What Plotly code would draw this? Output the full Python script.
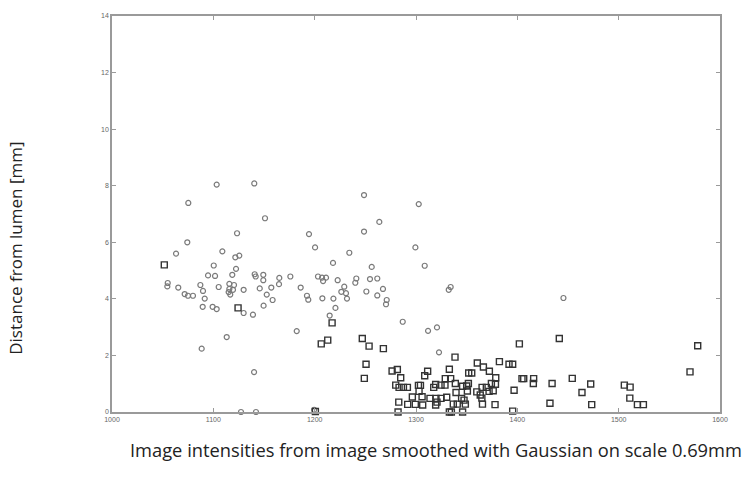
import plotly.graph_objects as go

# Circles (grey)
circle_x = [1075.3, 1103.3, 1140.4, 1151.0, 1074.3, 1063.2, 1123.4, 1108.9, 1121.7, 1125.6,
            1100.4, 1094.8, 1101.7, 1122.4, 1118.7, 1055.0, 1054.6, 1065.4, 1087.2, 1089.8,
            1091.5, 1089.5, 1099.3, 1103.3, 1105.3, 1071.7, 1075.0, 1079.9, 1115.8, 1120.4,
            1115.8, 1119.4, 1115.1, 1116.7, 1129.9, 1129.9, 1139.1, 1140.8, 1141.8, 1149.3,
            1149.3, 1145.8, 1157.2, 1152.7, 1158.5, 1149.6, 1164.8, 1165.1, 1176.0, 1186.2,
            1192.4, 1193.7, 1194.4, 1200.4, 1203.3, 1207.3, 1211.2, 1208.3, 1207.6, 1218.1,
            1222.7, 1218.5, 1220.5, 1214.8, 1182.3, 1113.2, 1088.5, 1140.2, 1127.3, 1142.1,
            1199.5, 1248.7, 1263.8, 1248.7, 1234.2, 1256.3, 1229.2, 1226.3, 1230.9, 1231.9,
            1241.1, 1240.1, 1254.6, 1261.8, 1251.0, 1267.4, 1261.8, 1271.1, 1270.4, 1302.7,
            1299.4, 1308.6, 1332.3, 1334.2, 1445.5, 1286.9, 1311.9, 1320.7, 1322.7]
circle_y = [7.39, 8.04, 8.08, 6.85, 6.00, 5.60, 6.32, 5.68, 5.47, 5.53,
            5.18, 4.83, 4.81, 5.06, 4.85, 4.56, 4.44, 4.40, 4.49, 4.28,
            4.01, 3.72, 3.72, 3.64, 4.42, 4.17, 4.11, 4.11, 4.53, 4.49,
            4.35, 4.32, 4.24, 4.15, 4.32, 3.50, 3.44, 4.87, 4.79, 4.85,
            4.66, 4.37, 4.40, 4.15, 3.96, 3.76, 4.52, 4.74, 4.79, 4.40,
            4.11, 3.97, 6.29, 5.82, 4.79, 4.75, 4.75, 4.63, 4.02, 5.27,
            4.66, 4.01, 3.68, 3.41, 2.86, 2.65, 2.24, 1.41, 0.00, 0.00,
            0.08, 7.67, 6.72, 6.38, 5.63, 5.13, 4.43, 4.25, 4.20, 4.01,
            4.72, 4.57, 4.70, 4.72, 4.26, 4.35, 4.12, 3.96, 3.81, 7.35,
            5.82, 5.17, 4.32, 4.42, 4.03, 3.19, 2.87, 2.99, 2.11]

# Squares (dark)
square_x = [1051.6, 1124.4, 1217.2, 1206.5, 1212.9, 1200.7, 1247.0, 1253.7, 1267.8, 1250.7,
            1249.0, 1276.4, 1281.6, 1284.9, 1280.0, 1283.3, 1287.6, 1291.5, 1283.0, 1291.8,
            1299.3, 1306.6, 1296.4, 1306.0, 1302.4, 1304.4, 1303.0, 1308.6, 1311.5, 1317.5,
            1319.4, 1324.7, 1328.6, 1328.9, 1334.2, 1332.9, 1313.8, 1319.7, 1324.7, 1330.3,
            1320.7, 1319.4, 1282.3, 1332.9, 1334.9, 1338.5, 1352.0, 1338.8, 1346.0, 1350.0,
            1339.5, 1336.8, 1340.7, 1347.4, 1348.7, 1346.0, 1402.0, 1360.5, 1366.5, 1372.4,
            1382.3, 1391.8, 1395.4, 1355.0, 1378.7, 1404.6, 1406.3, 1416.1, 1415.8, 1434.3,
            1351.7, 1350.7, 1365.2, 1369.4, 1374.4, 1378.4, 1376.2, 1372.1, 1363.4, 1365.0,
            1396.8, 1345.0, 1365.6, 1378.0, 1432.2, 1395.4, 1441.4, 1578.0, 1570.4, 1454.2,
            1472.4, 1505.6, 1511.3, 1511.0, 1463.8, 1473.4, 1518.5, 1524.4, 1360.0]
square_y = [5.20, 3.68, 3.15, 2.41, 2.54, 0.02, 2.60, 2.33, 2.24, 1.69,
            1.19, 1.45, 1.50, 1.21, 0.95, 0.87, 0.87, 0.87, 0.35, 0.27,
            0.27, 0.25, 0.53, 0.54, 0.94, 0.94, 0.73, 1.28, 1.44, 0.87,
            0.97, 0.95, 0.95, 1.18, 1.18, 1.51, 0.48, 0.48, 0.48, 0.52,
            0.35, 0.25, 0.00, 0.00, 0.00, 1.94, 1.38, 1.01, 0.91, 0.92,
            0.69, 0.28, 0.28, 0.42, 0.28, 0.00, 2.41, 1.73, 1.59, 1.44,
            1.78, 1.69, 1.69, 1.38, 1.21, 1.18, 1.18, 1.18, 1.01, 1.01,
            1.01, 0.74, 0.87, 0.87, 1.01, 0.98, 0.75, 0.73, 0.60, 0.49,
            0.77, 0.48, 0.28, 0.26, 0.31, 0.03, 2.60, 2.34, 1.42, 1.19,
            0.99, 0.95, 0.88, 0.49, 0.69, 0.26, 0.26, 0.26, 0.71]

x_ticks = [1000, 1100, 1200, 1300, 1400, 1500, 1600]
y_ticks = [0, 2, 4, 6, 8, 10, 12, 14]

fig = go.Figure()
fig.add_trace(go.Scatter(
    x=circle_x, y=circle_y, mode="markers",
    marker=dict(symbol="circle-open", size=5, color="#7a7a7a", line=dict(width=1.2, color="#7a7a7a")),
    showlegend=False, cliponaxis=False))
fig.add_trace(go.Scatter(
    x=square_x, y=square_y, mode="markers",
    marker=dict(symbol="square-open", size=6, color="#333333", line=dict(width=1.4, color="#333333")),
    showlegend=False, cliponaxis=False))

axis_common = dict(showgrid=False, zeroline=False, showline=True, linecolor="#9a9a9a", linewidth=1.5,
                   mirror="allticks", ticks="inside", ticklen=4, tickcolor="#9a9a9a", tickwidth=1,
                   tickfont=dict(family="Liberation Sans, Arial", size=7, color="#666666"))

fig.update_xaxes(range=[1000, 1600], tickvals=x_ticks, ticktext=[str(v) for v in x_ticks], **axis_common)
fig.update_yaxes(range=[0, 14], tickvals=y_ticks, ticktext=[str(v) for v in y_ticks], **axis_common)

fig.add_annotation(text="Image intensities from image smoothed with Gaussian on scale 0.69mm",
                   xref="paper", yref="paper", x=0.533, y=-0.095, showarrow=False,
                   xanchor="center", yanchor="middle",
                   font=dict(family="Open Sans", size=18.3, color="#222222"))
fig.add_annotation(text="Distance from lumen [mm]",
                   xref="paper", yref="paper", x=-0.16, y=0.414, showarrow=False,
                   xanchor="center", yanchor="middle", textangle=-90,
                   font=dict(family="Open Sans", size=17, color="#222222"))

fig.update_layout(width=751, height=488, margin=dict(l=112, r=31, t=13, b=76),
                  plot_bgcolor="white", paper_bgcolor="white")

fig.write_html("out.html")
